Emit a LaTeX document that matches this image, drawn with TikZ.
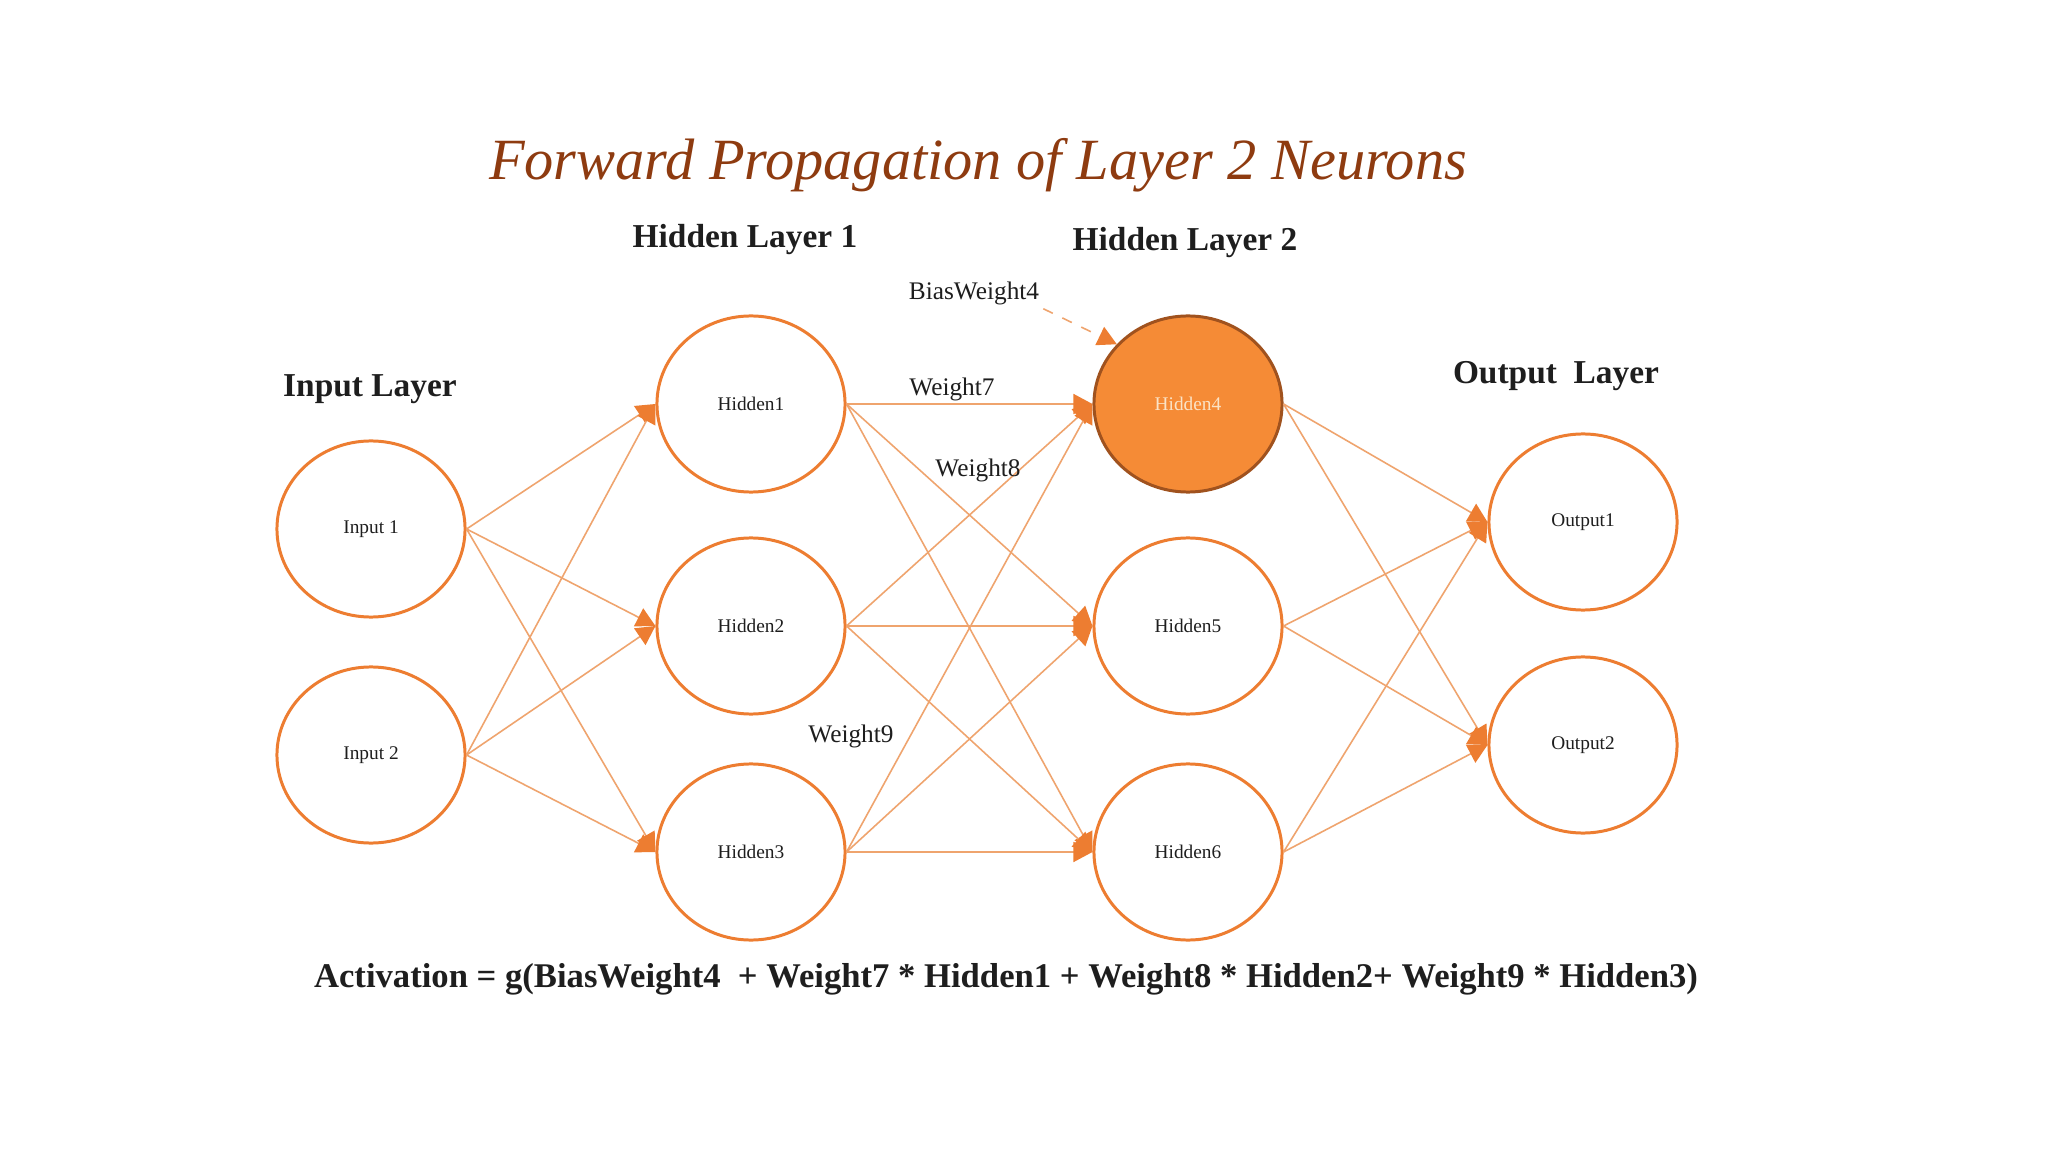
\documentclass[tikz,border=0pt]{standalone}
\usepackage{fontspec}
\setmainfont{Liberation Serif}
\usetikzlibrary{shapes.geometric,arrows.meta}
\definecolor{nodeor}{HTML}{ED7D31}
\definecolor{edgeor}{HTML}{EFA46E}
\definecolor{titlebr}{HTML}{8E3B10}
\definecolor{hfill}{HTML}{F58B36}
\definecolor{hborder}{HTML}{A0521E}
\definecolor{htext}{HTML}{FBE3C6}
\definecolor{txt}{HTML}{1E1E1E}
\begin{document}
\begin{tikzpicture}[x=0.01cm,y=-0.01cm,
  neuron/.style={ellipse, draw=nodeor, line width=0.85pt, fill=white,
    minimum width=1.88cm, minimum height=1.76cm, inner sep=0pt,
    font=\fontsize{5.5}{6}\selectfont, text=txt},
  active/.style={neuron, fill=hfill, draw=hborder, text=htext},
  conn/.style={draw=edgeor, line width=0.45pt,
    -{Triangle[length=0.19cm,width=0.2cm,color=nodeor]}},
  hdr/.style={font=\bfseries\fontsize{9.5}{11}\selectfont, text=txt},
  wlabel/.style={font=\fontsize{7.2}{8}\selectfont, text=txt, inner sep=1pt}]
\useasboundingbox[fill=white] (0,0) rectangle (2048,1152);

% title
\node[font=\itshape\fontsize{16.6}{20}\selectfont, text=titlebr] (title) at (978,165)
  {Forward Propagation of Layer 2 Neurons};

% headers
\node[hdr] (hin) at (370,389) {Input Layer};
\node[hdr] (hh1) at (745,240) {Hidden Layer 1};
\node[hdr] (hh2) at (1185,243) {Hidden Layer 2};
\node[hdr] (hout) at (1556,376) {Output\ \ Layer};

% neurons
\node[neuron] (i1) at (371,529) {Input 1};
\node[neuron] (i2) at (371,755) {Input 2};
\node[neuron] (h1) at (751,404) {Hidden1};
\node[neuron] (h2) at (751,626) {Hidden2};
\node[neuron] (h3) at (751,852) {Hidden3};
\node[active] (h4) at (1188,404) {Hidden4};
\node[neuron] (h5) at (1188,626) {Hidden5};
\node[neuron] (h6) at (1188,852) {Hidden6};
\node[neuron] (o1) at (1583,522) {Output1};
\node[neuron] (o2) at (1583,745) {Output2};

% connections
\foreach \s in {i1,i2} \foreach \t in {h1,h2,h3} \draw[conn] (\s.east) -- (\t.west);
\foreach \s in {h1,h2,h3} \foreach \t in {h4,h5,h6} \draw[conn] (\s.east) -- (\t.west);
\foreach \s in {h4,h5,h6} \foreach \t in {o1,o2} \draw[conn] (\s.east) -- (\t.west);

% weight labels
\node[wlabel] (bias) at (974,293) {BiasWeight4};
\node[wlabel] (w7) at (952,389) {Weight7};
\node[wlabel] (w8) at (978,470) {Weight8};
\node[wlabel] (w9) at (851,736) {Weight9};
\draw[conn, dashed] (bias.south east) -- (h4.140);

% formula
\node[font=\bfseries\fontsize{9.85}{12}\selectfont, text=txt] (formula) at (1006,979)
  {Activation = g(BiasWeight4\ \ + Weight7 * Hidden1 + Weight8 * Hidden2+ Weight9 * Hidden3)};
\end{tikzpicture}
\end{document}
